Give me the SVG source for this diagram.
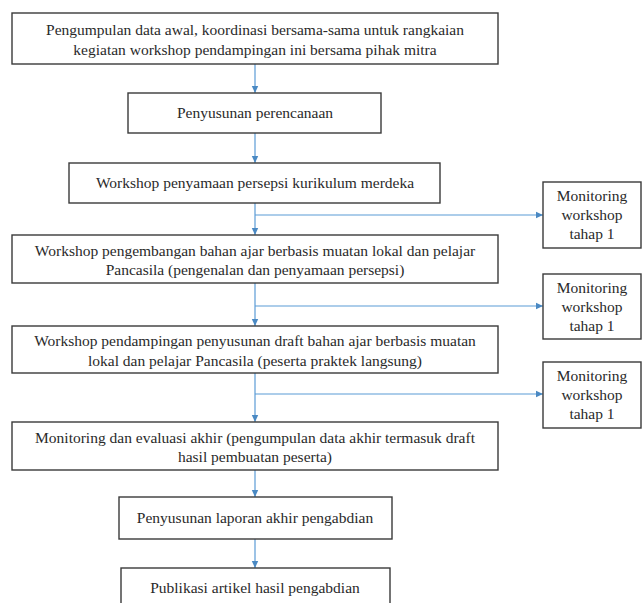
<svg xmlns="http://www.w3.org/2000/svg" width="643" height="603" viewBox="0 0 643 603">
<defs>
<marker id="ah" markerWidth="8" markerHeight="8" refX="7" refY="4" orient="auto" markerUnits="userSpaceOnUse">
<path d="M0,0.8 L7,4 L0,7.2 Z" fill="#4a89c3"/>
</marker>
<style>
.box{fill:#fff;stroke:#3a3a3a;stroke-width:1.4}
.t{font-family:"Liberation Serif","Times New Roman",serif;font-size:15.5px;fill:#2a2a2a;text-anchor:middle}
.c{fill:none;stroke:#5b9bd5;stroke-width:1.2}
</style>
</defs>
<rect width="643" height="603" fill="#fff"/>
<g id="connectors">
<line class="c" x1="255" y1="64" x2="255" y2="93" marker-end="url(#ah)"/>
<line class="c" x1="255" y1="133" x2="255" y2="163" marker-end="url(#ah)"/>
<line class="c" x1="255" y1="203" x2="255" y2="235" marker-end="url(#ah)"/>
<line class="c" x1="255" y1="215" x2="543" y2="215" marker-end="url(#ah)"/>
<line class="c" x1="255" y1="283" x2="255" y2="326" marker-end="url(#ah)"/>
<line class="c" x1="255" y1="306" x2="543" y2="306" marker-end="url(#ah)"/>
<line class="c" x1="255" y1="373" x2="255" y2="422" marker-end="url(#ah)"/>
<line class="c" x1="255" y1="394" x2="543" y2="394" marker-end="url(#ah)"/>
<line class="c" x1="255" y1="470" x2="255" y2="497" marker-end="url(#ah)"/>
<line class="c" x1="255" y1="539" x2="255" y2="568" marker-end="url(#ah)"/>
</g>
<g id="n1">
<rect class="box" x="12" y="13" width="486" height="51"/>
<text class="t" x="255" y="35">Pengumpulan data awal, koordinasi bersama-sama untuk rangkaian</text>
<text class="t" x="255" y="55">kegiatan workshop pendampingan ini bersama pihak mitra</text>
</g>
<g id="n2">
<rect class="box" x="128" y="93" width="253" height="40"/>
<text class="t" x="255" y="118">Penyusunan perencanaan</text>
</g>
<g id="n3">
<rect class="box" x="69" y="163" width="371" height="40"/>
<text class="t" x="255" y="188">Workshop penyamaan persepsi kurikulum merdeka</text>
</g>
<g id="n4">
<rect class="box" x="12" y="235" width="486" height="48"/>
<text class="t" x="255" y="256">Workshop pengembangan bahan ajar berbasis muatan lokal dan pelajar</text>
<text class="t" x="255" y="275">Pancasila (pengenalan dan penyamaan persepsi)</text>
</g>
<g id="n5">
<rect class="box" x="12" y="326" width="486" height="47"/>
<text class="t" x="255" y="346">Workshop pendampingan penyusunan draft bahan ajar berbasis muatan</text>
<text class="t" x="255" y="366">lokal dan pelajar Pancasila (peserta praktek langsung)</text>
</g>
<g id="n6">
<rect class="box" x="12" y="422" width="486" height="48"/>
<text class="t" x="255" y="443">Monitoring dan evaluasi akhir (pengumpulan data akhir termasuk draft</text>
<text class="t" x="255" y="462">hasil pembuatan peserta)</text>
</g>
<g id="n7">
<rect class="box" x="119" y="497" width="273" height="42"/>
<text class="t" x="255" y="523">Penyusunan laporan akhir pengabdian</text>
</g>
<g id="n8">
<rect class="box" x="121" y="568" width="269" height="50"/>
<text class="t" x="255" y="593">Publikasi artikel hasil pengabdian</text>
</g>
<g id="m1">
<rect class="box" x="543" y="182" width="98" height="66"/>
<text class="t" x="592" y="201">Monitoring</text>
<text class="t" x="592" y="220">workshop</text>
<text class="t" x="592" y="239">tahap 1</text>
</g>
<g id="m2">
<rect class="box" x="543" y="274" width="98" height="65"/>
<text class="t" x="592" y="293">Monitoring</text>
<text class="t" x="592" y="312">workshop</text>
<text class="t" x="592" y="331">tahap 1</text>
</g>
<g id="m3">
<rect class="box" x="543" y="362" width="98" height="66"/>
<text class="t" x="592" y="381">Monitoring</text>
<text class="t" x="592" y="400">workshop</text>
<text class="t" x="592" y="419">tahap 1</text>
</g>
</svg>
